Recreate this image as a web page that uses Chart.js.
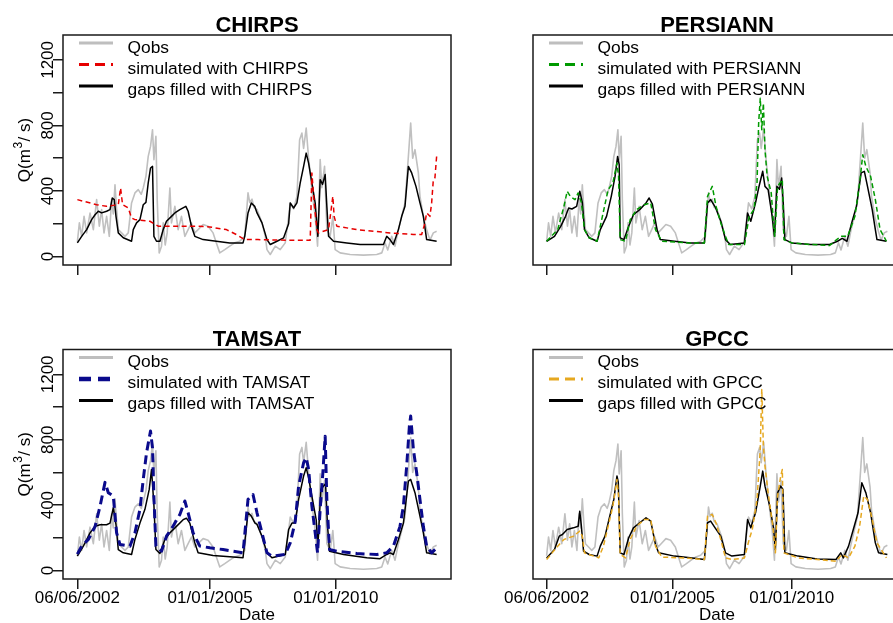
<!DOCTYPE html>
<html>
<head>
<meta charset="utf-8">
<script src="https://cdn.jsdelivr.net/npm/chart.js@4.4.1/dist/chart.umd.min.js"></script>
<style>
  html, body { margin: 0; padding: 0; background: #fff; overflow: hidden; width: 893px; height: 623px; position: relative; }
  canvas { position: absolute; }
</style>
</head>
<body>
<canvas id="pCHIRPS" width="460" height="310" style="left:0;top:0"></canvas>
<canvas id="pPERSIANN" width="460" height="310" style="left:450px;top:0"></canvas>
<canvas id="pTAMSAT" width="460" height="313" style="left:0;top:310px"></canvas>
<canvas id="pGPCC" width="460" height="313" style="left:450px;top:310px"></canvas>
<script>
// Time axis is the record index (0 = 06/06/2002); tick positions in index units
const xTickValues = [0, 133, 259];
const xTickLabels = ['06/06/2002', '01/01/2005', '01/01/2010'];
const yTickValues = [0, 200, 400, 600, 800, 1000, 1200];
const yTickLabels = [0, 400, 800, 1200];

// Observed discharge (m3/s), [index, Q]
const qobs = [[0,90],[2,205],[4.3,123],[6.7,245],[9.3,144],[12.7,265],[16,164],[19.3,347],[22,185],[24.3,286],[26.7,144],[29.3,245],[32,123],[34.3,347],[36,260],[37.7,438],[39.3,290],[41,164],[44.3,144],[47.7,123],[51,144],[54.3,327],[57.7,388],[61,408],[64,380],[66,418],[68.7,489],[71,611],[73.3,672],[75.3,774],[76.7,591],[78.7,733],[80,347],[82,22],[84.3,63],[86,205],[88,70],[90,144],[92.7,418],[94.3,205],[97.7,306],[101,164],[104.3,245],[107.7,123],[111,164],[114.3,205],[117.7,144],[121,164],[126,195],[131,185],[136,144],[139.3,83],[142.7,22],[147.7,42],[152.7,63],[157.7,83],[162.7,93],[167.7,123],[171,388],[172.7,330],[175,350],[177,300],[180,286],[185,205],[188.3,123],[190,42],[193.3,12],[198.3,63],[203.3,42],[208.3,83],[211.7,245],[213.3,327],[216.7,290],[220,367],[222.7,713],[225,753],[226.7,660],[229.3,784],[231.7,600],[235,408],[238.3,245],[240.7,63],[243.3,591],[245,420],[247.7,550],[250,164],[253.3,123],[256,245],[258.3,42],[263.3,22],[273.3,12],[286.7,8],[300,12],[305,22],[308.3,83],[311,40],[315,123],[318.3,63],[321.7,164],[325,245],[328.3,327],[331.7,611],[334,814],[336,600],[338.3,652],[341.7,510],[343.3,367],[346.7,245],[350,164],[353.3,100],[356.7,144],[360,154]];

// CHIRPS
const chirpsSim = [[0,347],[19.3,316],[29.3,306],[36,312],[41,316],[43.3,418],[45.3,316],[51,296],[54.3,235],[57.7,225],[72.7,215],[81,185],[99.3,185],[119.3,185],[132.7,180],[149.3,164],[159.3,134],[167.7,103],[181,103],[213.3,99],[233.3,99],[235,510],[237.3,327],[240,164],[241.7,144],[251.7,164],[256,367],[257.3,245],[260,185],[280,164],[313.3,144],[336.7,134],[345,134],[348.3,205],[350,266],[353.3,245],[355,327],[356.7,469],[358.3,480],[360,611]];
const chirpsFilled = [[0,83],[4.3,123],[9.3,164],[14.3,225],[17.7,255],[21,276],[24.3,266],[29.3,276],[32.7,286],[35,357],[37,347],[38.7,245],[41,144],[46,114],[54.3,93],[56,164],[59.3,205],[62.7,225],[66,316],[68.7,330],[71,449],[73.3,540],[75.3,550],[76.7,123],[79.3,93],[82.7,93],[86,164],[89.3,215],[94.3,245],[97.7,266],[102.7,286],[108.7,306],[111,276],[114.3,185],[117.7,123],[126,103],[139.3,93],[152.7,83],[166,83],[167.7,123],[171,266],[174.3,327],[177.7,306],[180,266],[185,205],[190,103],[193.3,73],[200,93],[206.7,114],[211.7,200],[213.3,327],[216.7,296],[220,327],[223.3,449],[226.7,550],[229.3,631],[231.7,570],[235,449],[238.3,327],[241,123],[243.3,469],[245.7,440],[248.3,500],[250,306],[251.7,123],[256.7,93],[270,83],[283.3,73],[306.7,73],[310,123],[313.3,103],[316.7,73],[321.7,164],[325,245],[328.3,306],[331.7,550],[335,510],[339.3,428],[343.3,327],[346.7,245],[350,103],[360,93]];

// PERSIANN
const persiannSim = [[0,93],[11.7,164],[18.3,306],[21.7,398],[25,367],[30,347],[33.3,388],[36.7,330],[40,164],[45,114],[53.3,93],[56.7,185],[65,408],[70,449],[74.3,570],[76,490],[77.7,103],[83.3,93],[88.3,225],[95,286],[103.3,316],[110,327],[115,164],[121.7,93],[150,83],[166.7,83],[170,367],[175,428],[179,306],[184,205],[189,123],[192.3,73],[209,73],[214,245],[219,286],[222.3,449],[224,814],[225.7,966],[227.3,774],[229,935],[230.7,652],[233,489],[237.3,388],[239.7,205],[241,123],[244,428],[249,469],[250.7,103],[259,83],[279,73],[299,67],[310.7,123],[318,123],[325.7,245],[330.7,449],[334,621],[337.3,550],[342.3,489],[347.3,347],[352.3,164],[359,93]];
const persiannFilled = [[0,93],[8.3,123],[15,185],[20,245],[23.3,296],[26.7,290],[31.7,306],[35,398],[37.7,330],[40,164],[45,114],[53.3,93],[56.7,164],[63.3,245],[68.3,367],[72.3,489],[75,611],[76.7,560],[77.7,114],[81.7,103],[86.7,185],[91.7,255],[98.3,286],[105,327],[108.3,357],[111.7,320],[116.7,164],[120,103],[135,93],[151.7,83],[166.7,83],[170,327],[173.3,347],[178.3,300],[184,215],[189,103],[194,73],[209,83],[212.3,266],[215.7,215],[220.7,327],[224,418],[228.3,520],[230.7,428],[234,408],[238.3,245],[240.7,123],[243.3,428],[246,410],[248.3,479],[250,327],[251.7,103],[259,83],[279,73],[299,73],[307.3,93],[312.3,110],[317.3,93],[322.3,205],[327.3,306],[332.3,510],[335.7,520],[339,428],[344,286],[347.3,164],[349,103],[359,93]];

// TAMSAT
const tamsatSim = [[0,100],[4.3,150],[11,190],[17.7,269],[22.7,392],[27.7,539],[31,476],[36,455],[39.3,230],[42.7,159],[52.7,149],[57.7,230],[62.7,374],[66,557],[69.3,720],[73.3,853],[75.3,750],[76.7,450],[78.7,149],[84.3,118],[89.3,210],[96,272],[102.7,343],[107.7,425],[111,353],[116,230],[122.7,149],[132.7,139],[146,128],[166,108],[171,435],[176,465],[180,353],[185,230],[190,108],[195,88],[208.3,98],[213.3,169],[218.3,300],[221.7,517],[226.7,659],[229.3,690],[231.7,620],[235,394],[238.3,230],[240.7,108],[243.3,374],[246,598],[248.3,822],[250,435],[252.7,128],[260,118],[280,104],[300,98],[310,108],[316.7,149],[323.3,270],[326.7,394],[330,639],[332.7,884],[334,945],[336.7,741],[340,598],[343.3,435],[346.7,270],[350,149],[355,108],[360,139]];
const tamsatFilled = [[0,88],[6,149],[12.7,230],[17.7,270],[22.7,280],[29.3,280],[32.7,290],[36,384],[38.7,280],[41,128],[46,108],[54.3,98],[57.7,190],[62.7,290],[67.7,374],[72,496],[74.3,618],[76.7,400],[78.7,128],[82.7,104],[87.7,190],[92.7,230],[99.3,270],[106,311],[109.3,320],[112.7,290],[117.7,169],[121,108],[136,92],[152.7,84],[166,78],[171,353],[174.3,333],[178,290],[180,282],[185,210],[190,108],[195,78],[208.3,98],[211.7,251],[215,290],[218.3,290],[221.7,435],[226.7,578],[229.3,629],[231.7,567],[235,455],[239.3,311],[241,149],[244,496],[246.7,517],[248.7,530],[250.7,270],[252.7,118],[266.7,98],[290,78],[303.3,72],[310,98],[313.3,108],[316.7,98],[321.7,190],[326.7,290],[331.7,547],[334,557],[338.3,476],[343.3,333],[346.7,230],[350,108],[360,98]];

// GPCC
const gpccSim = [[0,67],[11.7,149],[18.3,190],[28.3,210],[35,241],[37.7,210],[40,108],[55,77],[60,149],[65,271],[70,394],[74.3,557],[76,455],[77.7,98],[83.3,77],[88.3,190],[95,271],[103.3,312],[110,312],[115,149],[121.7,82],[150,75],[166.7,67],[170,333],[175,343],[179,290],[184,190],[189,77],[195.7,67],[209,77],[214,190],[217.3,251],[222.3,435],[225.7,741],[227.3,1108],[229,760],[230.7,639],[234,475],[239,271],[241.7,108],[244,455],[247.3,577],[249,618],[250.7,108],[265.7,77],[305.7,57],[312,98],[319,77],[325.7,149],[330.7,271],[335,455],[339,435],[344,312],[349,169],[359,77]];
const gpccFilled = [[0,77],[8.3,128],[13.3,210],[16.7,220],[21.7,251],[28.3,261],[33.3,271],[35,363],[36.7,271],[39,118],[45,98],[53.3,88],[56.7,149],[61.7,210],[66.7,333],[71,435],[74.3,578],[75.7,540],[77.7,108],[81.7,98],[86.7,200],[91.7,261],[98.3,292],[105,322],[110,302],[115,159],[118.3,108],[135,88],[151.7,78],[166.7,67],[170,292],[173.3,302],[178,261],[184,210],[189,108],[195.7,88],[209,98],[212.3,312],[215.7,261],[220.7,353],[225.7,516],[228.3,608],[230.7,516],[235.7,394],[239.7,261],[241.7,128],[244,475],[247.3,516],[249.7,496],[251.7,108],[265.7,88],[285.7,71],[305.7,67],[310.7,108],[313.5,77],[319,149],[324,251],[329,353],[333,537],[337.3,475],[342.3,353],[347.3,169],[350.7,108],[360,98]];

const FONT = '"Liberation Sans", Arial, Helvetica, sans-serif';
const INK = '#1a1a1a';

const panels = [
  { id: 'pCHIRPS',   name: 'CHIRPS',   sim: chirpsSim,   filled: chirpsFilled,   color: '#e60000', width: 1.5, dash: [5, 3.5], legendWidth: 3, legendDash: [10, 6], yLabels: true,  xLabels: false, top: 35,   bottomPad: 25 },
  { id: 'pPERSIANN', name: 'PERSIANN', sim: persiannSim, filled: persiannFilled, color: '#009a00', width: 1.5, dash: [5, 3],   legendWidth: 3, legendDash: [10, 6], yLabels: false, xLabels: false, top: 35,   bottomPad: 25 },
  { id: 'pTAMSAT',   name: 'TAMSAT',   sim: tamsatSim,   filled: tamsatFilled,   color: '#0a0a8c', width: 3,   dash: [9, 5],   legendWidth: 4.5, legendDash: [12, 7], yLabels: true,  xLabels: true,  top: 39.5, bottomPad: 24 },
  { id: 'pGPCC',     name: 'GPCC',     sim: gpccSim,     filled: gpccFilled,     color: '#e6a820', width: 1.5, dash: [5, 3],   legendWidth: 3, legendDash: [10, 6], yLabels: false, xLabels: true,  top: 39.5, bottomPad: 24 }
];

const toPoints = pairs => pairs.map(([x, y]) => ({ x, y }));

// Box, title, legend, axis labels in base-graphics style
const framePlugin = {
  id: 'frame',
  afterDraw(chart) {
    const p = chart.options.plugins.frame;
    const { ctx, chartArea: a, scales } = chart;
    ctx.save();
    ctx.strokeStyle = INK;
    ctx.lineWidth = 1.5;
    ctx.setLineDash([]);
    ctx.strokeRect(a.left, a.top, a.right - a.left, a.bottom - a.top);

    const cx = (a.left + a.right) / 2;
    ctx.fillStyle = '#000';
    ctx.textAlign = 'center';
    ctx.textBaseline = 'alphabetic';
    ctx.font = 'bold 22px ' + FONT;
    ctx.fillText(p.name, cx, a.top - 3.5);

    // legend
    const rows = [
      { text: 'Qobs', color: '#bebebe', width: 3, dash: [] },
      { text: 'simulated with ' + p.name, color: p.color, width: p.legendWidth, dash: p.legendDash },
      { text: 'gaps filled with ' + p.name, color: '#000', width: 3, dash: [] }
    ];
    ctx.font = '17.4px ' + FONT;
    ctx.textAlign = 'left';
    rows.forEach((r, i) => {
      const ly = a.top + 8 + i * 21.5;
      ctx.beginPath();
      ctx.strokeStyle = r.color;
      ctx.lineWidth = r.width;
      ctx.setLineDash(r.dash);
      ctx.moveTo(a.left + 16, ly);
      ctx.lineTo(a.left + 50, ly);
      ctx.stroke();
      ctx.fillStyle = '#000';
      ctx.fillText(r.text, a.left + 64.5, a.top + 17.5 + i * 21);
    });
    ctx.setLineDash([]);

    if (p.yLabels) {
      const ys = scales.y;
      ctx.font = '17px ' + FONT;
      ctx.textAlign = 'center';
      yTickLabels.forEach(v => {
        ctx.save();
        ctx.translate(a.left - 10.5, ys.getPixelForValue(v));
        ctx.rotate(-Math.PI / 2);
        ctx.fillText(String(v), 0, 0);
        ctx.restore();
      });
      // Q(m^3/ s)
      ctx.save();
      ctx.translate(a.left - 33, (a.top + a.bottom) / 2);
      ctx.rotate(-Math.PI / 2);
      ctx.textAlign = 'left';
      ctx.font = '17px ' + FONT;
      const t1 = 'Q(m', t3 = '/ s)';
      const w1 = ctx.measureText(t1).width, w3 = ctx.measureText(t3).width;
      ctx.font = '12px ' + FONT;
      const w2 = ctx.measureText('3').width + 1;
      let x0 = -(w1 + w2 + w3) / 2;
      ctx.font = '17px ' + FONT;
      ctx.fillText(t1, x0, 0);
      ctx.font = '12px ' + FONT;
      ctx.fillText('3', x0 + w1 + 0.5, -8);
      ctx.font = '17px ' + FONT;
      ctx.fillText(t3, x0 + w1 + w2, 0);
      ctx.restore();
    }

    if (p.xLabels) {
      const xs = scales.x;
      ctx.font = '17px ' + FONT;
      ctx.textAlign = 'center';
      xTickValues.forEach((v, i) => {
        ctx.fillText(xTickLabels[i], xs.getPixelForValue(v), a.bottom + 24);
      });
      ctx.fillText('Date', cx, a.bottom + 41);
    }
    ctx.restore();
  }
};

panels.forEach(p => {
  const tickGrid = { drawOnChartArea: false, drawTicks: true, tickLength: 10, color: INK, lineWidth: 1.5 };
  new Chart(document.getElementById(p.id), {
    type: 'line',
    data: {
      datasets: [
        { label: 'simulated with ' + p.name, data: toPoints(p.sim), borderColor: p.color, borderWidth: p.width, borderDash: p.dash, order: 0 },
        { label: 'gaps filled with ' + p.name, data: toPoints(p.filled), borderColor: '#000', borderWidth: 1.5, order: 1 },
        { label: 'Qobs', data: toPoints(qobs), borderColor: '#c0c0c0', borderWidth: 1.6, order: 2 }
      ]
    },
    options: {
      responsive: false,
      animation: false,
      events: [],
      elements: { point: { radius: 0 }, line: { tension: 0, borderJoinStyle: 'round' } },
      layout: { padding: { left: p.yLabels ? 43 : 63, right: 9, top: p.top, bottom: p.bottomPad } },
      plugins: {
        legend: { display: false },
        tooltip: { enabled: false },
        title: { display: false },
        frame: { name: p.name, color: p.color, legendWidth: p.legendWidth, legendDash: p.legendDash, yLabels: p.yLabels, xLabels: p.xLabels }
      },
      scales: {
        x: {
          type: 'linear', min: -14.4, max: 374.4,
          afterBuildTicks: s => { s.ticks = xTickValues.map(v => ({ value: v })); },
          afterFit: s => { s.height = 20; },
          ticks: { display: false },
          grid: tickGrid,
          border: { display: false }
        },
        y: {
          type: 'linear', min: -52, max: 1352,
          display: p.yLabels,
          afterBuildTicks: s => { s.ticks = yTickValues.map(v => ({ value: v })); },
          afterFit: s => { s.width = 20; },
          ticks: { display: false },
          grid: tickGrid,
          border: { display: false }
        }
      }
    },
    plugins: [framePlugin]
  });
});
</script>
</body>
</html>
